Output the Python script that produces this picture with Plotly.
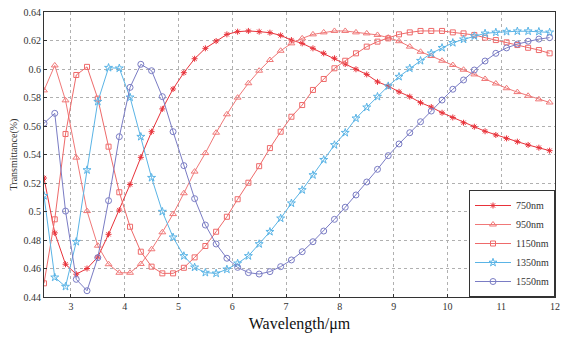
import plotly.graph_objects as go

wavelength = [round(2.5 + 0.2 * i, 1) for i in range(48)]

t750 = [0.5235, 0.485, 0.463, 0.456, 0.460, 0.468, 0.484, 0.501, 0.519, 0.538,
        0.556, 0.572, 0.586, 0.5974, 0.6072, 0.6145, 0.6196, 0.6243, 0.6262, 0.6267,
        0.6262, 0.6255, 0.6236, 0.6203, 0.618, 0.6145, 0.611, 0.6075, 0.6035, 0.5998,
        0.5962, 0.591, 0.588, 0.584, 0.5806, 0.5764, 0.5733, 0.5693, 0.566, 0.5623,
        0.5595, 0.5563, 0.5537, 0.5513, 0.549, 0.5467, 0.5448, 0.5427]

t950 = [0.585, 0.6025, 0.578, 0.5378, 0.5003, 0.476, 0.463, 0.457, 0.457, 0.4632,
        0.4735, 0.4854, 0.4982, 0.5128, 0.528, 0.541, 0.5553, 0.5682, 0.5799, 0.590,
        0.5988, 0.6063, 0.6128, 0.618, 0.6215, 0.6243, 0.6257, 0.6267, 0.6267, 0.6257,
        0.625, 0.6239, 0.622, 0.6195, 0.6157, 0.6121, 0.6091, 0.6058, 0.6028, 0.5995,
        0.5962, 0.593, 0.5898, 0.5865, 0.5838, 0.5812, 0.5787, 0.5765]

t1150 = [0.4496, 0.4945, 0.5544, 0.5958, 0.6015, 0.5792, 0.5455, 0.5135, 0.4893, 0.4718,
         0.4613, 0.4566, 0.4566, 0.4605, 0.4678, 0.4758, 0.4858, 0.4963, 0.5086, 0.5202,
         0.5318, 0.5445, 0.556, 0.5665, 0.5747, 0.5853, 0.593, 0.6005, 0.6058, 0.611,
         0.6157, 0.6192, 0.6215, 0.6243, 0.6257, 0.6267, 0.6267, 0.6267, 0.6257, 0.625,
         0.6239, 0.622, 0.6203, 0.6187, 0.6168, 0.6149, 0.6133, 0.611]

t1350 = [0.511, 0.4538, 0.4473, 0.4788, 0.5291, 0.5771, 0.6009, 0.6005, 0.5801, 0.5525,
         0.5237, 0.4999, 0.4819, 0.4688, 0.4608, 0.4571, 0.4566, 0.4594, 0.4636, 0.4688,
         0.4772, 0.4858, 0.4952, 0.5058, 0.5151, 0.5256, 0.5363, 0.5467, 0.5553, 0.5654,
         0.5731, 0.5806, 0.588, 0.5946, 0.6005, 0.6058, 0.611, 0.6149, 0.6184, 0.6208,
         0.6231, 0.625, 0.6257, 0.6262, 0.6265, 0.6265, 0.6262, 0.6257]

t1550 = [0.5619, 0.5689, 0.5003, 0.4524, 0.4444, 0.4676, 0.5076, 0.5525, 0.5871, 0.6033,
         0.5988, 0.5806, 0.556, 0.5322, 0.509, 0.4905, 0.4772, 0.4672, 0.4608, 0.4571,
         0.4561, 0.4578, 0.4613, 0.466, 0.4718, 0.4788, 0.4863, 0.4945, 0.503, 0.5116,
         0.5207, 0.5296, 0.5392, 0.5474, 0.5553, 0.563, 0.5705, 0.5782, 0.5858, 0.5923,
         0.5993, 0.6056, 0.611, 0.6148, 0.6175, 0.6195, 0.621, 0.622]

names = ["750nm", "950nm", "1150nm", "1350nm", "1550nm"]
series = [t750, t950, t1150, t1350, t1550]
colors = ["#e8323a", "#f07878", "#ee6a6a", "#5ab4e6", "#7a7cc4"]
symbols = ["asterisk-open", "triangle-up-open", "square-open", "star-open", "circle-open"]
sizes = [5, 6, 5, 6, 6]

fig = go.Figure()
for n, s, c, sym, sz in zip(names, series, colors, symbols, sizes):
    fig.add_trace(go.Scatter(
        x=wavelength, y=s, name=n, mode="lines+markers",
        line=dict(color=c, width=1),
        marker=dict(symbol=sym, size=sz, color=c, line=dict(color=c, width=1)),
    ))

serif = "Liberation Serif, DejaVu Serif, serif"
fig.update_layout(
    width=564, height=344,
    margin=dict(l=44, r=4, t=12, b=47),
    paper_bgcolor="white", plot_bgcolor="white",
    font=dict(family=serif, size=10, color="#333333"),
    showlegend=True,
    legend=dict(x=1, y=0, xanchor="right", yanchor="bottom",
                bordercolor="#333333", borderwidth=1, bgcolor="white",
                font=dict(family=serif, size=10, color="#333333"),
                tracegroupgap=0, itemwidth=36),
    xaxis=dict(range=[2.5, 12], tickvals=[3, 4, 5, 6, 7, 8, 9, 10, 11, 12],
               showgrid=True, gridcolor="#b0b0b0", griddash="dot", gridwidth=1,
               showline=True, linecolor="#333333", linewidth=1, mirror=True,
               ticks="inside", ticklen=3, tickcolor="#333333",
               zeroline=False, ticklabeloverflow="allow",
               title=dict(text="Wavelength/μm", font=dict(family=serif, size=16, color="#111111"),
                          standoff=6)),
    yaxis=dict(range=[0.44, 0.64], tickvals=[0.44, 0.46, 0.48, 0.5, 0.52, 0.54, 0.56, 0.58, 0.6, 0.62, 0.64],
               ticktext=["0.44", "0.46", "0.48", "0.5", "0.52", "0.54", "0.56", "0.58", "0.6", "0.62", "0.64"],
               showgrid=True, gridcolor="#b0b0b0", griddash="dot", gridwidth=1,
               showline=True, linecolor="#333333", linewidth=1, mirror=True,
               ticks="inside", ticklen=3, tickcolor="#333333",
               zeroline=False,
               title=dict(text="Transmittance(%)", font=dict(family=serif, size=10, color="#333333"),
                          standoff=4)),
)

fig.write_html("out.html", config={"displayModeBar": False},
               post_script="document.body.style.margin='0';document.body.style.overflow='hidden';")
